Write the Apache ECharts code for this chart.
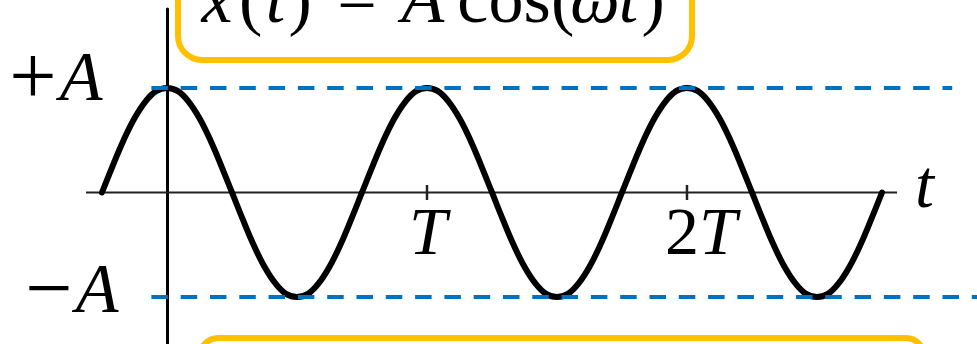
<!DOCTYPE html>
<html>
<head>
<meta charset="utf-8">
<script src="https://cdn.jsdelivr.net/npm/echarts@6/dist/echarts.min.js"></script>
<style>
  html, body { margin: 0; padding: 0; background: #ffffff; }
  #chart { width: 977px; height: 344px; }
</style>
</head>
<body>
<div id="chart"></div>
<script>
// Time, in units of the period T
const tValues = [
  -0.25, -0.208, -0.167, -0.125, -0.083, -0.042,
  0, 0.042, 0.083, 0.125, 0.167, 0.208, 0.25, 0.292, 0.333, 0.375, 0.417, 0.458,
  0.5, 0.542, 0.583, 0.625, 0.667, 0.708, 0.75, 0.792, 0.833, 0.875, 0.917, 0.958,
  1, 1.042, 1.083, 1.125, 1.167, 1.208, 1.25, 1.292, 1.333, 1.375, 1.417, 1.458,
  1.5, 1.542, 1.583, 1.625, 1.667, 1.708, 1.75, 1.792, 1.833, 1.875, 1.917, 1.958,
  2, 2.042, 2.083, 2.125, 2.167, 2.208, 2.25, 2.292, 2.333, 2.375, 2.417, 2.458,
  2.5, 2.542, 2.583, 2.625, 2.667, 2.708, 2.75
];
// Displacement x(t), in units of the amplitude A
const xValues = [
  0, 0.26, 0.5, 0.71, 0.87, 0.97,
  1, 0.97, 0.87, 0.71, 0.5, 0.26, 0, -0.26, -0.5, -0.71, -0.87, -0.97,
  -1, -0.97, -0.87, -0.71, -0.5, -0.26, 0, 0.26, 0.5, 0.71, 0.87, 0.97,
  1, 0.97, 0.87, 0.71, 0.5, 0.26, 0, -0.26, -0.5, -0.71, -0.87, -0.97,
  -1, -0.97, -0.87, -0.71, -0.5, -0.26, 0, 0.26, 0.5, 0.71, 0.87, 0.97,
  1, 0.97, 0.87, 0.71, 0.5, 0.26, 0, -0.26, -0.5, -0.71, -0.87, -0.97,
  -1, -0.97, -0.87, -0.71, -0.5, -0.26, 0
];
// Visible stretch of the time axis and its name
const timeAxisSpan = [-0.3115, 2.808];
const timeAxisName = 't';
// Time-axis ticks
const tickValues = [1, 2];
const tickLabels = ['T', '2T'];
// Amplitude levels and their dashed guides
const levelValues = [1, -1];
const levelLabels = ['+A', '−A'];
const guideStart = [-0.06, -0.06];
const guideEnd = [3.02, 3.12];

const SERIF = '"Liberation Serif", "DejaVu Serif", serif';
const FS = 68;

const curve = tValues.map((t, i) => [t, xValues[i]]);

// rich-text styles for the math labels
const mathRich = {
  i: { fontFamily: SERIF, fontStyle: 'italic', fontSize: FS, lineHeight: FS, color: '#000' },
  n: { fontFamily: SERIF, fontSize: FS, lineHeight: FS, color: '#000' },
  op: { fontFamily: SERIF, fontSize: 84, lineHeight: 70, color: '#000', padding: [0, 3, 0, 0] },
  a: { fontFamily: SERIF, fontStyle: 'italic', fontSize: 70, lineHeight: 70, color: '#000' }
};

function tickText(s) {
  return s.length > 1 ? '{n|' + s.slice(0, -1) + '}{i|' + s.slice(-1) + '}' : '{i|' + s + '}';
}

// label placement: tick labels [dx, dy]; level labels [distance, dy]
const tickLabelShift = [[1, 44], [14, 44]];
const levelLabelPos = [[49, -6], [33, -3]];

const guideSeries = levelValues.map((v, i) => ({
  type: 'line',
  data: [[guideStart[i], v], [guideEnd[i], v]],
  symbol: 'none',
  silent: true,
  z: 5,
  lineStyle: { color: '#0070C0', width: 4, type: [16.5, 12.8] }
}));

// Formula pieces: text, centre x, italic?
const formula = [
  ['x', 217, true], ['(', 250.6, false], ['t', 275.4, true], [')', 300.2, false],
  ['=', 357, false], ['A', 423, true], ['cos', 504, false], ['(', 562.7, false],
  ['ω', 595, true], ['t', 628.4, true], [')', 653.2, false]
];

const chart = echarts.init(document.getElementById('chart'), null, { renderer: 'canvas' });

chart.setOption({
  animation: false,
  backgroundColor: '#ffffff',
  grid: { left: 86, right: 0, top: 9, bottom: 0, containLabel: false, outerBoundsMode: 'none' },
  xAxis: {
    type: 'value',
    min: -0.3115,
    max: 3.1154,
    splitLine: { show: false },
    axisTick: { show: false },
    axisLabel: { show: false },
    axisLine: { show: false }
  },
  yAxis: {
    type: 'value',
    min: -1.45,
    max: 1.756,
    splitLine: { show: false },
    axisTick: { show: false },
    axisLabel: { show: false },
    axisLine: { show: true, onZero: true, lineStyle: { color: '#000', width: 3 } }
  },
  series: [
    {
      // horizontal time axis with its name at the right end
      type: 'line',
      data: [
        [timeAxisSpan[0], 0],
        {
          value: [timeAxisSpan[1], 0],
          label: {
            show: true, position: 'right', distance: 18, offset: [0, -3],
            formatter: '{i|' + timeAxisName + '}', rich: mathRich
          }
        }
      ],
      symbol: 'circle',
      symbolSize: 0.01,
      showSymbol: true,
      silent: true,
      z: 1,
      itemStyle: { color: 'rgba(0,0,0,0)' },
      lineStyle: { color: '#222', width: 2 }
    },
    {
      type: 'line',
      data: curve,
      smooth: 0.4,
      symbol: 'none',
      silent: true,
      z: 3,
      lineStyle: { color: '#000', width: 6, cap: 'round', join: 'round' }
    },
    {
      // tick marks on the time axis, with their labels
      type: 'scatter',
      data: tickValues.map((v, i) => ({
        value: [v, 0],
        label: {
          show: true,
          position: 'inside',
          offset: tickLabelShift[i],
          color: '#000',
          textBorderWidth: 0,
          formatter: tickText(tickLabels[i]),
          rich: mathRich
        }
      })),
      symbol: 'rect',
      symbolSize: [2.5, 15],
      silent: true,
      z: 2,
      itemStyle: { color: '#222', opacity: 1 }
    },
    ...guideSeries,
    {
      // labels for the amplitude levels
      type: 'scatter',
      data: levelValues.map((v, i) => ({
        value: [guideStart[i], v],
        label: {
          show: true,
          position: 'left',
          distance: levelLabelPos[i][0],
          offset: [0, levelLabelPos[i][1]],
          color: '#000',
          textBorderWidth: 0,
          formatter: '{op|' + levelLabels[i].charAt(0) + '}{a|' + levelLabels[i].slice(1) + '}',
          rich: mathRich
        }
      })),
      symbolSize: 0.01,
      silent: true,
      z: 6,
      itemStyle: { color: 'rgba(0,0,0,0)', opacity: 1 }
    }
  ],
  graphic: [
    {
      type: 'rect', z: 100,
      shape: { x: 178, y: -60, width: 514, height: 120, r: 24 },
      style: { fill: '#fff', stroke: '#FFC000', lineWidth: 6 }
    },
    {
      type: 'rect', z: 100,
      shape: { x: 200, y: 338, width: 724, height: 90, r: 18 },
      style: { fill: '#fff', stroke: '#FFC000', lineWidth: 6 }
    },
    ...formula.map(([s, cx, it]) => ({
      type: 'text', z: 101,
      x: cx, y: 4,
      style: {
        text: s, fill: '#000',
        fontFamily: SERIF, fontSize: 70, fontStyle: it ? 'italic' : 'normal',
        align: 'center', verticalAlign: 'middle'
      }
    }))
  ]
});
</script>
</body>
</html>
